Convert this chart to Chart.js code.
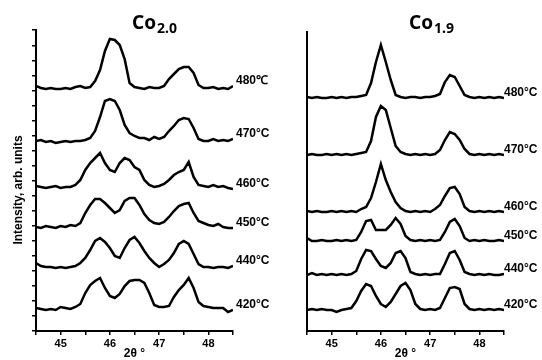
<!DOCTYPE html>
<html>
<head>
<meta charset="utf-8">
<script src="https://cdn.jsdelivr.net/npm/chart.js@4.4.0/dist/chart.umd.min.js"></script>
<style>
  body { margin: 0; background: #fff; }
  #wrap { position: relative; width: 542px; height: 360px; }
  .box { position: absolute; top: 0; width: 271px; height: 360px; }
</style>
</head>
<body>
<div id="wrap">
  <div class="box" style="left:0"><canvas id="chartLeft" width="271" height="360"></canvas></div>
  <div class="box" style="left:271px"><canvas id="chartRight" width="271" height="360"></canvas></div>
</div>
<script>
// 2theta, degrees
var twoTheta = [44.5, 44.6, 44.7, 44.8, 44.9, 45.0, 45.1, 45.2, 45.3, 45.4,
                45.5, 45.6, 45.7, 45.8, 45.9, 46.0, 46.1, 46.2, 46.3, 46.4,
                46.5, 46.6, 46.7, 46.8, 46.9, 47.0, 47.1, 47.2, 47.3, 47.4,
                47.5, 47.6, 47.7, 47.8, 47.9, 48.0, 48.1, 48.2, 48.3, 48.4, 48.5];

// Co2.0 – intensity above each curve's own baseline
var co20_480 = [3,1,0,1,0,0,1,0,2,3,1,2,8,19,38,50,49,44,30,6,2,1,0,2,1,1,3,10,15,20,22,22,16,4,1,1,2,0,1,0,3];
var co20_470 = [2,3,1,2,0,1,2,1,2,2,3,5,12,26,42,44,42,33,18,10,7,5,5,3,6,4,6,12,17,23,25,24,15,4,2,2,4,2,3,2,4];
var co20_460 = [2,1,0,1,2,0,1,1,3,8,18,25,30,35,25,18,16,25,30,28,21,18,8,3,1,2,4,8,13,16,18,26,11,3,2,1,3,1,2,0,-1];
var co20_450 = [1,0,2,1,0,2,1,3,2,5,15,23,29,29,25,20,15,18,27,30,30,23,14,8,5,4,6,11,17,22,24,25,15,7,5,3,2,4,1,0,0];
var co20_440 = [5,2,1,1,0,1,0,1,2,5,10,18,27,30,26,20,12,10,20,28,31,25,17,10,5,1,4,8,15,24,27,24,14,4,1,1,0,1,1,0,2];
var co20_420 = [2,1,0,1,0,3,2,1,3,6,17,25,29,32,22,14,12,16,24,29,30,30,27,17,5,3,3,4,13,20,25,32,22,8,4,3,2,2,2,-2,0];
var co20Offsets = [242, 188, 143, 103, 63, 21];
var co20Temps = ['480\u2103', '470°C', '460°C', '450°C', '440°C', '420°C'];

// Co1.9
var co19_480 = [1,0,1,0,0,1,0,1,0,1,1,2,3,15,36,53,36,18,3,1,0,1,1,0,1,1,2,4,16,23,21,12,3,1,0,1,0,1,0,1,0];
var co19_470 = [0,1,0,0,1,0,1,0,1,0,1,2,3,14,38,49,45,27,9,3,1,0,1,0,1,0,1,5,15,23,21,15,6,1,0,1,0,1,0,1,0];
var co19_460 = [1,0,1,0,0,1,0,1,0,1,0,3,5,14,30,48,32,20,10,4,1,0,1,0,1,0,3,7,16,24,25,18,5,1,0,1,0,1,0,1,0];
var co19_450 = [3,0,0,1,0,0,1,0,1,0,1,9,20,21,11,11,11,16,23,17,5,1,0,1,0,1,0,1,9,19,22,15,3,0,1,0,1,0,0,1,0];
var co19_440 = [0,2,0,1,0,1,0,1,0,1,4,16,25,24,16,9,7,12,22,24,17,3,1,0,1,0,1,1,11,22,24,15,3,1,0,1,0,1,0,0,1];
var co19_420 = [0,1,0,1,0,0,-2,0,1,2,9,19,26,24,14,6,3,8,16,24,27,20,6,1,0,1,0,2,12,22,23,21,6,1,0,1,0,1,0,1,0];
var co19Offsets = [233, 176, 119, 90, 56, 21];
var co19Temps = ['480°C', '470°C', '460°C', '450°C', '440°C', '420°C'];

// titles, temperature labels, y title
const panelText = {
  id: 'panelText',
  afterDraw(chart, args, opts) {
    const ctx = chart.ctx, area = chart.chartArea;
    ctx.save();
    ctx.fillStyle = '#000';
    ctx.textAlign = 'left';
    ctx.textBaseline = 'alphabetic';
    ctx.font = 'bold 19px "Noto Sans"';
    ctx.fillText(opts.main, opts.titleX, 29);
    const w = ctx.measureText(opts.main).width;
    ctx.font = 'bold 14px "Noto Sans"';
    ctx.fillText(opts.sub, opts.titleX + w + 1, 33);

    ctx.font = 'bold 12px "Liberation Sans", Arial';
    ctx.textBaseline = 'middle';
    chart.data.datasets.forEach(function(ds, i) {
      const pts = chart.getDatasetMeta(i).data;
      const last = pts[pts.length - 1];
      ctx.fillText(ds.label, area.right + opts.dx, last.y + opts.dy);
    });

    if (opts.yTitle) {
      ctx.translate(19, 190);
      ctx.rotate(-Math.PI / 2);
      ctx.textAlign = 'center';
      ctx.font = 'bold 12px "Liberation Sans", Arial';
      ctx.fillText(opts.yTitle, 0, 0);
    }
    ctx.restore();
  }
};

function makeChart(id, curves, offsets, temps, cfg) {
  const datasets = curves.map(function(c, i) {
    return {
      label: temps[i],
      data: c.map(function(v, j) { return { x: twoTheta[j], y: v + offsets[i] }; }),
      borderColor: '#000',
      borderWidth: 2.5,
      pointRadius: 0,
      tension: 0,
      fill: false
    };
  });
  return new Chart(document.getElementById(id), {
    type: 'line',
    data: { datasets: datasets },
    options: {
      responsive: false,
      animation: false,
      layout: { padding: { left: 0, top: cfg.top, right: 38, bottom: 0 } },
      plugins: {
        legend: { display: false },
        tooltip: { enabled: false },
        panelText: cfg.text
      },
      scales: {
        x: {
          type: 'linear',
          min: 44.5,
          max: 48.5,
          afterFit: function(s) { s.height = 29; },
          ticks: {
            stepSize: 0.5,
            autoSkip: false,
            maxRotation: 0,
            padding: 2,
            color: '#000',
            font: { family: '"Liberation Sans", Arial', size: 11, weight: 'bold' },
            callback: function(v) { return Number.isInteger(v) ? String(v) : ''; }
          },
          grid: { drawOnChartArea: false, drawTicks: true, tickLength: 4, color: '#000', lineWidth: 1.5 },
          border: { color: '#000', width: 2 },
          title: {
            display: true,
            text: '2θ °',
            color: '#000',
            padding: { top: 0, bottom: -1 },
            font: { family: '"Liberation Sans", Arial', size: 12, weight: 'bold' }
          }
        },
        y: {
          min: 0,
          max: cfg.yMax,
          afterFit: function(s) { s.width = 36; },
          ticks: { display: false, stepSize: 15 },
          grid: cfg.yTicks
            ? { drawOnChartArea: false, drawTicks: true, tickLength: 4, color: '#000', lineWidth: 1.5 }
            : { display: false },
          border: { color: '#000', width: 2 }
        }
      }
    },
    plugins: [panelText]
  });
}

makeChart('chartLeft',
  [co20_480, co20_470, co20_460, co20_450, co20_440, co20_420],
  co20Offsets, co20Temps,
  { top: 30, yMax: 301, yTicks: true,
    text: { main: 'Co', sub: '2.0', titleX: 132, dx: 3, dy: -5, yTitle: 'Intensity, arb. units' } });

makeChart('chartRight',
  [co19_480, co19_470, co19_460, co19_450, co19_440, co19_420],
  co19Offsets, co19Temps,
  { top: 32, yMax: 299, yTicks: false,
    text: { main: 'Co', sub: '1.9', titleX: 138, dx: 0, dy: -5, yTitle: '' } });
</script>
</body>
</html>
